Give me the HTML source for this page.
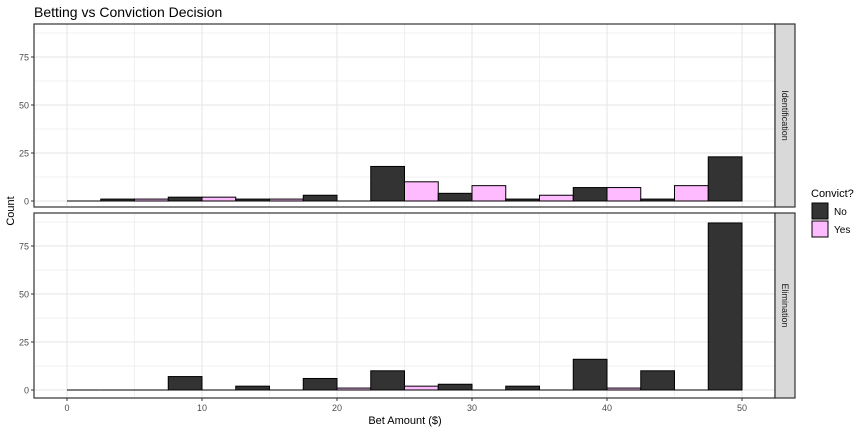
<!DOCTYPE html>
<html><head><meta charset="utf-8"><style>
body{margin:0;background:#fff;}
svg{display:block;font-family:"Liberation Sans",sans-serif;}
</style></head><body>
<svg id="chart" width="864" height="432">
<text x="34" y="17" font-size="14" fill="#000">Betting vs Conviction Decision</text>
<text x="405" y="424" font-size="11" text-anchor="middle">Bet Amount ($)</text>
<text x="14" y="211" font-size="11" text-anchor="middle" transform="rotate(-90 14 211)">Count</text>
<g>
<text x="811" y="197" font-size="11">Convict?</text>
<rect x="812" y="203" width="16" height="16" fill="#333333" stroke="#000"/>
<text x="834" y="215" font-size="10">No</text>
<rect x="812" y="221" width="16" height="16" fill="#FFBBFF" stroke="#000"/>
<text x="834" y="233" font-size="10">Yes</text>
</g>
</svg>
<script>
const binCenters=[0,5,10,15,20,25,30,35,40,45,50];
const panelNames=["Identification","Elimination"];
const noIdent=[null,1,2,1,3,18,4,1,7,1,23];
const yesIdent=[0,1,2,1,0,10,8,3,7,8,null];
const noElim=[null,0,7,2,6,10,3,2,16,10,87];
const yesElim=[0,0,0,0,1,2,0,0,1,0,null];
const xTicks=[0,10,20,30,40,50];
const yTicks=[0,25,50,75];
const halfWidth=2.5;

const svg=document.getElementById('chart');
const NS='http://www.w3.org/2000/svg';
const px0=34,px1=775;
const xs=v=>67+v*13.5;
function mk(tag,attrs,parent){const e=document.createElementNS(NS,tag);for(const k in attrs)e.setAttribute(k,attrs[k]);(parent||svg).appendChild(e);return e;}
const panels=[{top:24,bottom:207,zero:201,no:noIdent,yes:yesIdent},{top:213,bottom:398,zero:390,no:noElim,yes:yesElim}];
const ppu=144/75;
panels.forEach((p,pi)=>{
  const ys=v=>p.zero-v*ppu;
  const g=mk('g',{});
  
  
  for(let v=-5;v<=55;v+=5){const x=xs(v);if(x<px0||x>px1)continue;const l=mk('line',{x1:x,x2:x,y1:p.top,y2:p.bottom,stroke:'#e6e6e6','stroke-width':v%10===0?1.1:0.6},g);}
  for(let v=12.5;v<=100;v+=12.5){const y=ys(v);if(y<p.top)continue;const l=mk('line',{x1:px0,x2:px1,y1:y,y2:y,stroke:'#e6e6e6','stroke-width':v%25===0?1.1:0.6},g);}
  {const l=mk('line',{x1:px0,x2:px1,y1:ys(0),y2:ys(0),stroke:'#e6e6e6','stroke-width':1.1},g);}
  binCenters.forEach((c,i)=>{
    [[p.no[i],c-halfWidth,'#333333','no'],[p.yes[i],c,'#FFBBFF','yes']].forEach(([v,x0,fill,s])=>{
      if(v===null)return;
      if(v===0){
        const l=mk('line',{x1:xs(x0),x2:xs(x0+halfWidth),y1:ys(0),y2:ys(0),stroke:'#000','stroke-width':1},g);
        
        
        return;
      }
      const r=mk('rect',{x:xs(x0),y:ys(v),width:xs(x0+halfWidth)-xs(x0),height:ys(0)-ys(v),fill:fill,stroke:'#000','stroke-width':1},g);
      
      
    });
  });
  const fr=mk('rect',{x:px0,y:p.top,width:px1-px0,height:p.bottom-p.top,fill:'none',stroke:'#333','stroke-width':1.2},g);
  
  
  const st=mk('rect',{x:775,y:p.top,width:20,height:p.bottom-p.top,fill:'#d9d9d9',stroke:'#333','stroke-width':1.2},g);
  
  
  const cy=(p.top+p.bottom)/2;
  const t=mk('text',{x:785,y:cy,'font-size':9,'text-anchor':'middle','dominant-baseline':'central',fill:'#1a1a1a',transform:`rotate(90 785 ${cy})`},g);
  t.textContent=panelNames[pi];
  
  
  yTicks.forEach(v=>{const y=ys(v);
    const tk=mk('line',{x1:px0-3,x2:px0,y1:y,y2:y,stroke:'#333'},g);
    const tt=mk('text',{x:px0-5,y:y+3.5,'font-size':9,'text-anchor':'end',fill:'#4d4d4d'},g);tt.textContent=v;});
});
xTicks.forEach(v=>{const x=xs(v);
  const tk=mk('line',{x1:x,x2:x,y1:398,y2:401,stroke:'#333'});
  const tt=mk('text',{x:x,y:411,'font-size':9,'text-anchor':'middle',fill:'#4d4d4d'});tt.textContent=v;});
</script>
</body></html>
